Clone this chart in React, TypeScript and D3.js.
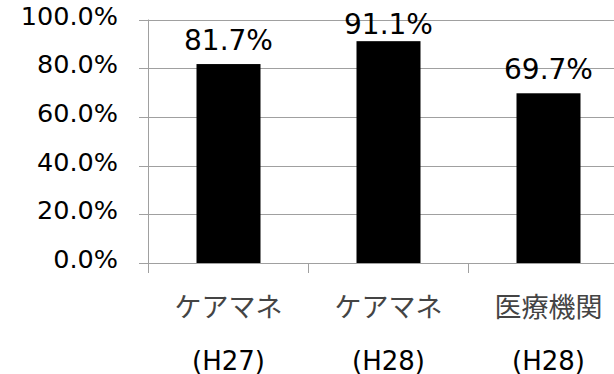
import React from "react";
import * as d3 from "d3";

// Chart data
const categories = ["ケアマネ(H27)", "ケアマネ(H28)", "医療機関(H28)"];
const categoryLine1 = ["ケアマネ", "ケアマネ", "医療機関"];
const categoryLine2 = ["(H27)", "(H28)", "(H28)"];
const values = [0.817, 0.911, 0.697];
const yTicks = [0, 0.2, 0.4, 0.6, 0.8, 1.0];

const W = 614;
const H = 374;
const plotLeft = 148.5;
const plotRight = 628.5;
const plotTop = 19.5;
const plotBottom = 263;

const gridColor = "#a0a0a0";
const latinFont = "Verdana, 'DejaVu Sans', sans-serif";
const cjkFont = "'Noto Sans CJK JP', sans-serif";

export default function App() {
  const x = d3
    .scaleBand<string>()
    .domain(categories)
    .range([plotLeft, plotRight])
    .paddingInner(0.6)
    .paddingOuter(0.3);
  const y = d3.scaleLinear().domain([0, 1]).range([plotBottom, plotTop]);
  const fmt = d3.format(".1%");
  const step = x.step();

  return (
    <svg
      width={W}
      height={H}
      style={{ position: "absolute", left: 0, top: 0, background: "#fff" }}
    >
      {/* horizontal gridlines and y tick marks */}
      {yTicks.map((t) => (
        <g key={t}>
          <line
            x1={139}
            x2={W}
            y1={Math.round(y(t)) + 0.5}
            y2={Math.round(y(t)) + 0.5}
            stroke={gridColor}
            strokeWidth={1}
          />
          <text
            x={118}
            y={y(t) + 5}
            textAnchor="end"
            fontFamily={latinFont}
            fontSize={25.5}
            fill="#000"
          >
            {fmt(t)}
          </text>
        </g>
      ))}

      {/* value axis line */}
      <line
        x1={plotLeft}
        x2={plotLeft}
        y1={y(1)}
        y2={plotBottom + 10}
        stroke={gridColor}
        strokeWidth={1}
      />

      {/* category tick marks */}
      {categories.map((c, i) => {
        const tx = plotLeft + step * (i + 1);
        return (
          <line
            key={c}
            x1={tx}
            x2={tx}
            y1={plotBottom}
            y2={plotBottom + 10}
            stroke={gridColor}
            strokeWidth={1}
          />
        );
      })}

      {/* bars */}
      {categories.map((c, i) => (
        <rect
          key={c}
          x={x(c)}
          y={y(values[i])}
          width={x.bandwidth()}
          height={plotBottom - y(values[i])}
          fill="#000"
        />
      ))}

      {/* value labels, kept inside the plot area */}
      {categories.map((c, i) => (
        <text
          key={c}
          x={(x(c) as number) + x.bandwidth() / 2}
          y={Math.max(y(values[i]) - 14, 33.5)}
          textAnchor="middle"
          fontFamily={latinFont}
          fontSize={28}
          fill="#000"
        >
          {fmt(values[i])}
        </text>
      ))}

      {/* category labels */}
      {categories.map((c, i) => {
        const cx = (x(c) as number) + x.bandwidth() / 2;
        return (
          <g key={c}>
            <text
              x={cx}
              y={317}
              textAnchor="middle"
              fontFamily={cjkFont}
              fontSize={27}
              fill="#444"
            >
              {categoryLine1[i]}
            </text>
            <text
              x={cx}
              y={369.5}
              textAnchor="middle"
              fontFamily={latinFont}
              fontSize={26}
              fill="#000"
            >
              {categoryLine2[i]}
            </text>
          </g>
        );
      })}
    </svg>
  );
}
